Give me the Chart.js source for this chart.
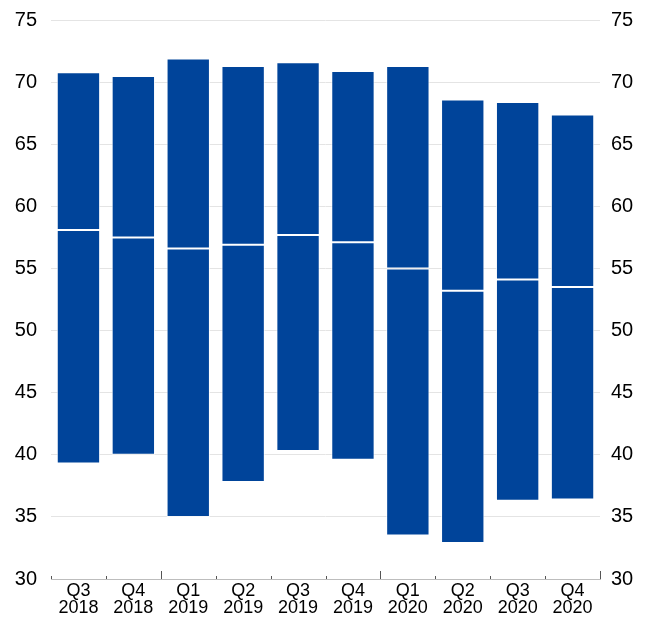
<!DOCTYPE html>
<html>
<head>
<meta charset="utf-8">
<script src="https://cdn.jsdelivr.net/npm/chart.js@4"></script>
<style>
  html, body { margin: 0; padding: 0; background: #fff; }
  #wrap { width: 652px; height: 617px; }
</style>
</head>
<body>
<div id="wrap"><canvas id="rangeChart"></canvas></div>
<script>
const quarters = [
  ["Q3", "2018"], ["Q4", "2018"], ["Q1", "2019"], ["Q2", "2019"], ["Q3", "2019"],
  ["Q4", "2019"], ["Q1", "2020"], ["Q2", "2020"], ["Q3", "2020"], ["Q4", "2020"],
];
const lows = [39.3, 40.0, 35.0, 37.8, 40.3, 39.6, 33.5, 32.9, 36.3, 36.4];
const medians = [58.1, 57.5, 56.6, 56.9, 57.7, 57.1, 55.0, 53.2, 54.1, 53.5];
const highs = [70.8, 70.5, 71.9, 71.3, 71.6, 70.9, 71.3, 68.6, 68.4, 67.4];
const yTicks = [30, 35, 40, 45, 50, 55, 60, 65, 70, 75];

const barBlue = "#00449a";
const yearStarts = [2, 6, 10]; // boundaries drawn with a longer tick

const lowerPart = lows.map((v, i) => [v, medians[i]]);
const upperPart = medians.map((v, i) => [v, highs[i]]);

// little upward tick marks between the quarters
const xTickMarks = {
  id: "xTickMarks",
  afterDraw(chart) {
    const x = chart.scales.x;
    const c = chart.ctx;
    const base = x.top;
    c.save();
    c.strokeStyle = "#555";
    c.lineWidth = 1;
    for (let i = 0; i <= quarters.length; i++) {
      const px = Math.round(x.getPixelForValue(i - 0.5)) + 0.5;
      const len = yearStarts.includes(i) ? 8 : 3;
      c.beginPath();
      c.moveTo(px, base);
      c.lineTo(px, base - len);
      c.stroke();
    }
    c.restore();
  },
};

const font = { family: "'Liberation Sans', Arial, sans-serif", size: 20 };

const barStyle = {
  backgroundColor: barBlue,
  borderColor: "rgba(255,255,255,0.75)",
  borderWidth: 1,
  borderSkipped: false,
  grouped: false,
  categoryPercentage: 1,
  barPercentage: 0.79,
};

const fitY = (width) => (s) => {
  s.width = width;
  s.paddingTop = 0;
  s.paddingBottom = 0;
};

new Chart(document.getElementById("rangeChart"), {
  type: "bar",
  data: {
    labels: quarters,
    datasets: [
      { label: "lower", data: lowerPart, ...barStyle },
      { label: "upper", data: upperPart, ...barStyle },
    ],
  },
  options: {
    responsive: true,
    maintainAspectRatio: false,
    animation: false,
    layout: { padding: { top: 20, left: 0, right: 0, bottom: 0 } },
    plugins: {
      legend: { display: false },
      tooltip: { enabled: false },
    },
    scales: {
      x: {
        grid: { display: false, drawTicks: false },
        border: { display: true, color: "#bdbdbd", width: 1 },
        ticks: {
          color: "#000",
          font: { family: font.family, size: 18, lineHeight: 0.95 },
          padding: 3,
          maxRotation: 0,
          autoSkip: false,
        },
        afterFit: (s) => { s.height = 38; },
      },
      y: {
        position: "left",
        min: 30,
        max: 75,
        afterBuildTicks: (s) => { s.ticks = yTicks.map((v) => ({ value: v })); },
        grid: { color: "#e4e4e4", lineWidth: 1, drawTicks: false },
        border: { display: false },
        ticks: { color: "#000", font: font, padding: 14 },
        afterFit: fitY(51),
      },
      y2: {
        position: "right",
        min: 30,
        max: 75,
        afterBuildTicks: (s) => { s.ticks = yTicks.map((v) => ({ value: v })); },
        grid: { display: false, drawTicks: false },
        border: { display: false },
        ticks: { color: "#000", font: font, padding: 11 },
        afterFit: fitY(52),
      },
    },
  },
  plugins: [xTickMarks],
});
</script>
</body>
</html>
